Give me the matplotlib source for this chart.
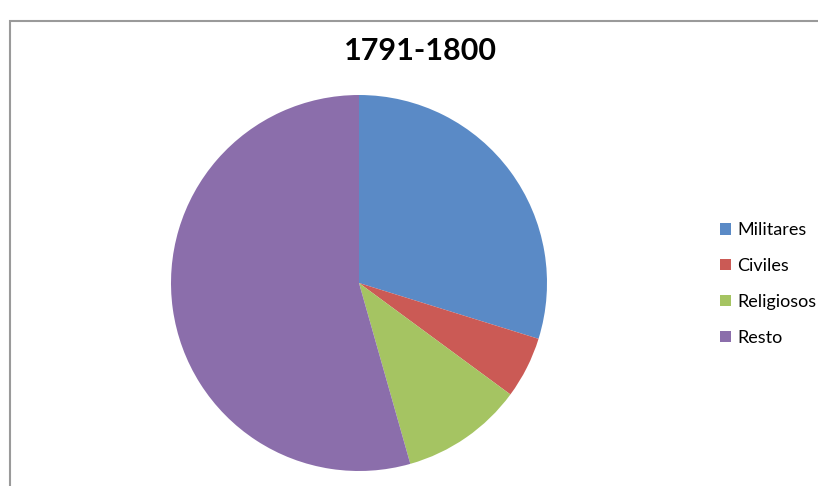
import matplotlib.pyplot as plt
from matplotlib.patches import Rectangle

labels = ["Militares", "Civiles", "Religiosos", "Resto"]
values = [29.8, 5.3, 10.5, 54.4]
colors = ["#5A8AC6", "#CB5A55", "#A5C462", "#8B6EAB"]

fig = plt.figure(figsize=(8.18, 4.86), dpi=100)

# outer chart frame (cut off at right and bottom like the screenshot)
fig.patches.append(Rectangle((10 / 818, -0.1), 1.0, (486 - 21) / 486 + 0.1,
                             transform=fig.transFigure, fill=False,
                             edgecolor="#9a9a9a", lw=1.5))

cx, cy, r = 359, 283, 188
ax = fig.add_axes([(cx - r) / 818, (486 - cy - r) / 486, 2 * r / 818, 2 * r / 486])
wedges, _ = ax.pie(values, colors=colors, startangle=90, counterclock=False,
                   wedgeprops=dict(linewidth=0))
ax.set_xlim(-1, 1)
ax.set_ylim(-1, 1)
ax.set_aspect("auto")
ax.axis("off")

fig.text(420 / 818, 1 - 51 / 486, "1791-1800", ha="center", va="center",
         fontsize=22, fontweight="bold", family="Lato")

fig.legend(wedges, labels, loc="center left", bbox_to_anchor=(704 / 818, 1 - 284 / 486),
           frameon=False, handlelength=0.6, handleheight=0.6, handletextpad=0.35,
           labelspacing=1.1, prop={"family": "Lato", "size": 13})

fig.savefig("out.png", dpi=100)
